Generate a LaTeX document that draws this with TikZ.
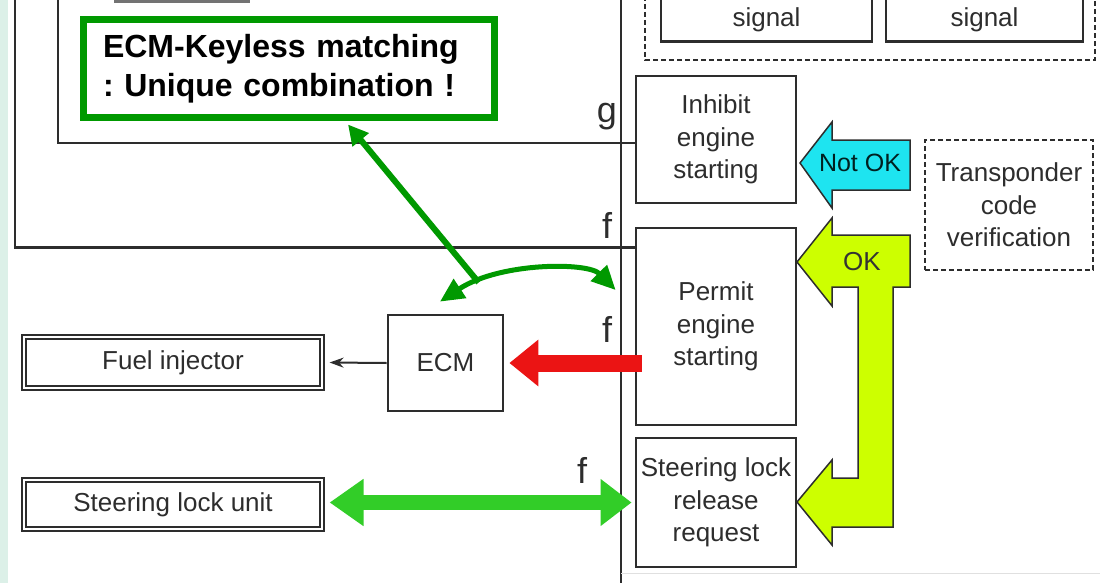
\documentclass[tikz,border=0pt]{standalone}
\usepackage{fontspec}
\setmainfont{Liberation Sans}
\usetikzlibrary{arrows.meta}
\frenchspacing

\definecolor{calloutgreen}{RGB}{0,153,0}
\definecolor{linkgreen}{RGB}{50,205,40}
\definecolor{stopred}{RGB}{235,20,20}
\definecolor{notokcyan}{RGB}{30,228,240}
\definecolor{okyellow}{RGB}{205,255,0}
\definecolor{mint}{RGB}{220,240,232}
\definecolor{inkgray}{RGB}{45,45,45}

\begin{document}
\begin{tikzpicture}[x=1pt, y=-1pt,
  txt/.style={font=\fontsize{26}{32.5}\selectfont, text=inkgray},
  block/.style={rectangle, draw=inkgray, line width=2.8pt, align=center,
                inner sep=2pt, txt},
  dblock/.style={block, double, double distance=2.5pt, line width=2.2pt},
  dashbox/.style={draw=inkgray, line width=2.8pt, dash pattern=on 5pt off 3pt},
  frame/.style={draw=inkgray, line width=2.6pt},
  pin/.style={font=\fontsize{36}{36}\selectfont, text=inkgray, anchor=base, inner sep=0},
  bigarrow/.style={draw=inkgray, line width=1.5pt, line join=miter}]
  \useasboundingbox (0,0) rectangle (1105,583);
  \clip (0,0) rectangle (1105,583);
  \fill[white] (0,0) rectangle (1105,583);
  \fill[mint] (0,0) rectangle (8,583);

  % Units and blocks
  \node[dblock, minimum width=298pt, minimum height=51pt] (fuel) at (173,362.5) {Fuel injector};
  \node[dblock, minimum width=298pt, minimum height=49pt] (lockunit) at (173,504.5) {Steering lock unit};
  \node[block, minimum width=115pt, minimum height=96pt] (ecm) at (445.5,363) {ECM};
  \node[block, minimum width=160pt, minimum height=127pt] (inhibit) at (716,139.5) {Inhibit\\engine\\starting};
  \node[block, minimum width=160pt, minimum height=197pt] (permit) at (716,326.5) {Permit\\engine\\starting};
  \node[block, minimum width=160pt, minimum height=129pt] (release) at (716,502.5) {Steering lock\\release\\request};
  \node[block, dashbox, minimum width=168pt, minimum height=130pt] (verify) at (1009,205) {Transponder\\code\\verification};

  % Signal boxes (cut at the top)
  \draw[dashbox] (645,-20) rectangle (1095,60);
  \node[block, minimum width=211pt, minimum height=80pt, anchor=south] (sigA) at (766.5,43) {};
  \node[block, minimum width=197pt, minimum height=80pt, anchor=south] (sigB) at (984.5,43) {};
  \node[txt] at ([yshift=23pt]sigA.south) {signal};
  \node[txt] at ([yshift=23pt]sigB.south) {signal};
  \draw[frame, draw=black!55, line width=3pt] (115,-10) rectangle (248,2);

  % Harness lines
  \draw[frame] (58,-5) |- ([yshift=-3.5pt]inhibit.west);
  \draw[frame] (15,-5) |- ([yshift=-21pt]permit.north west);
  \draw[frame] (621,-5) -- (621,590);
  \draw[black!12, line width=1pt] (621,573) -- (1100,573);
  \node[pin] (gInh) at (607,123) {g};
  \node[pin] (fPerm) at (607,238) {f};
  \node[pin] (fEcm) at (607,342) {f};
  \node[pin] (fLock) at (582,483) {f};

  % Callout
  \node[draw=calloutgreen, fill=white, line width=7pt, minimum width=411pt, minimum height=98pt,
        text width=372pt, align=left, inner xsep=19.5pt,
        font=\fontsize{32}{39}\selectfont\bfseries] (callout) at (289,68.5)
        {ECM-Keyless matching\\: Unique combination !};

  % Signal flow
  \path (permit.west |- ecm.east) coordinate (redstart);
  \path (lockunit.east |- release.west) coordinate (lockout);
  \draw[inkgray, line width=2pt, -{Stealth[length=14pt,width=10pt]}] (ecm.west) -- ([xshift=6.5pt]fuel.east);
  \draw[stopred, line width=17pt, -{Triangle[length=29pt,width=45pt]}] ([xshift=7pt]redstart) -- ([xshift=5pt]ecm.east);
  \draw[linkgreen, line width=15pt, {Triangle[length=34pt,width=45pt]}-{Triangle[length=31pt,width=45pt]}]
    ([xshift=6.5pt]lockout) -- ([xshift=-3pt]release.west);

  % Matching links
  \coordinate (ecmtop) at ([xshift=-5.5pt,yshift=12pt]ecm.north);
  \coordinate (permitin) at ([xshift=-19pt,yshift=36.5pt]permit.west);
  \draw[calloutgreen, line width=5pt, {Triangle[length=24pt,width=22pt]}-{Triangle[length=24pt,width=22pt]}]
    (ecmtop) .. controls (500,262) and (588,262) .. (permitin) coordinate[pos=0.2] (join);
  \draw[calloutgreen, line width=6pt, -{Triangle[length=20pt,width=20pt]}]
    (join) -- ([xshift=59pt,yshift=-3.5pt]callout.south);

  % Verification result arrows
  \filldraw[fill=notokcyan, bigarrow] (800,163) -- (832,122) -- (832,140) -- (910,140) -- (910,190)
    -- (832,190) -- (832,208) -- cycle;
  \node[font=\fontsize{25}{25}\selectfont, text=black!75!teal] (notok) at (860,163) {Not OK};
  \filldraw[fill=okyellow, bigarrow] (797,262) -- (832,218) -- (832,235) -- (910,235) -- (910,287)
    -- (893,287) -- (893,527) -- (832,527) -- (832,545) -- (797,502) -- (832,460) -- (832,478)
    -- (858,478) -- (858,287) -- (832,287) -- (832,306) -- cycle;
  \node[txt, text=black!80] (ok) at (862,262) {OK};
\end{tikzpicture}
\end{document}
